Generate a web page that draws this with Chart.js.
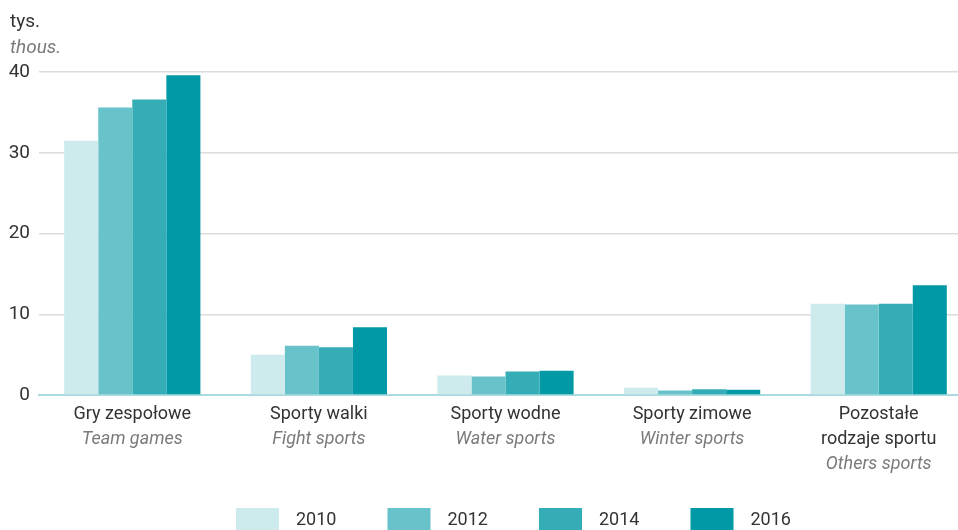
<!DOCTYPE html>
<html>
<head>
<meta charset="utf-8">
<script src="https://cdn.jsdelivr.net/npm/chart.js@4/dist/chart.umd.min.js"></script>
<style>
  html, body { margin: 0; padding: 0; background: #fff; overflow: hidden; }
  /* plot runs slightly past the right edge of the window, as in the source */
  #wrap { width: 972px; height: 530px; position: relative; }
</style>
</head>
<body>
<div id="wrap"><canvas id="chart"></canvas></div>
<script>
// categories: polish label lines + english label
var categoriesPl = [['Gry zespołowe'], ['Sporty walki'], ['Sporty wodne'], ['Sporty zimowe'], ['Pozostałe', 'rodzaje sportu']];
var categoriesEn = ['Team games', 'Fight sports', 'Water sports', 'Winter sports', 'Others sports'];

var years = ['2010', '2012', '2014', '2016'];
var values2010 = [31.5, 5.0, 2.4, 0.9, 11.3];
var values2012 = [35.6, 6.1, 2.3, 0.55, 11.2];
var values2014 = [36.6, 5.9, 2.9, 0.7, 11.3];
var values2016 = [39.6, 8.4, 3.0, 0.65, 13.6];

var yTicks = [0, 10, 20, 30, 40];
var colors = ['#cdeaec', '#67c2c9', '#34adb6', '#0099a5'];

var FONT = 'Roboto, "Noto Sans", sans-serif';

// header text, two-style category labels and the legend row
var textPlugin = {
  id: 'texts',
  afterDraw: function (chart) {
    var ctx = chart.ctx;
    var xs = chart.scales.x;
    var bottom = chart.chartArea.bottom;
    ctx.save();
    ctx.textBaseline = 'alphabetic';
    ctx.textAlign = 'left';
    ctx.fillStyle = '#333';
    ctx.font = '19px ' + FONT;
    ctx.fillText('tys.', 10, 27);
    ctx.fillStyle = '#7a7a7a';
    ctx.font = 'italic 19px ' + FONT;
    ctx.fillText('thous.', 10, 53);

    ctx.textAlign = 'center';
    ctx.textBaseline = 'middle';
    for (var i = 0; i < categoriesPl.length; i++) {
      var x = xs.getPixelForValue(i);
      var lines = categoriesPl[i];
      var y = bottom + 19;
      ctx.fillStyle = '#333';
      ctx.font = '18px ' + FONT;
      for (var j = 0; j < lines.length; j++) {
        ctx.fillText(lines[j], x, y);
        y += 25;
      }
      ctx.fillStyle = '#7a7a7a';
      ctx.font = 'italic 18px ' + FONT;
      ctx.fillText(categoriesEn[i], x, y);
    }

    // legend
    var ds = chart.data.datasets;
    var lx = 236;
    ctx.textAlign = 'left';
    ctx.font = '18px ' + FONT;
    for (var k = 0; k < ds.length; k++) {
      ctx.fillStyle = ds[k].backgroundColor;
      ctx.fillRect(lx, 508, 43, 22);
      ctx.fillStyle = '#333';
      ctx.fillText(ds[k].label, lx + 60, 520);
      lx += 151.5;
    }
    ctx.restore();
  }
};

var allValues = [values2010, values2012, values2014, values2016];
var datasets = years.map(function (yr, i) {
  return {
    label: yr,
    data: allValues[i],
    backgroundColor: colors[i],
    borderWidth: 0,
    categoryPercentage: 0.73,
    barPercentage: 1.0
  };
});

new Chart(document.getElementById('chart'), {
  type: 'bar',
  data: {
    labels: categoriesPl.map(function (l) { return l.join(' '); }),
    datasets: datasets
  },
  options: {
    responsive: true,
    maintainAspectRatio: false,
    animation: false,
    layout: { padding: { top: 72, left: 0, right: 0, bottom: 0 } },
    plugins: {
      tooltip: { enabled: false },
      legend: { display: false }
    },
    scales: {
      x: {
        grid: { display: false, drawTicks: false },
        border: { display: true, color: '#a9dbe0', width: 2 },
        ticks: { display: false },
        afterFit: function (scale) { scale.height = 135; }
      },
      y: {
        min: 0,
        max: 40,
        afterBuildTicks: function (scale) {
          scale.ticks = yTicks.map(function (v) { return { value: v }; });
        },
        grid: {
          color: function (c) { return c.tick && c.tick.value === 0 ? 'rgba(0,0,0,0)' : '#dcdcdc'; },
          lineWidth: 1.5,
          drawTicks: false
        },
        border: { display: false },
        ticks: {
          padding: 9,
          color: '#333',
          font: { family: FONT, size: 19 }
        },
        afterFit: function (scale) { scale.width = 39; }
      }
    }
  },
  plugins: [textPlugin]
});
</script>
</body>
</html>
